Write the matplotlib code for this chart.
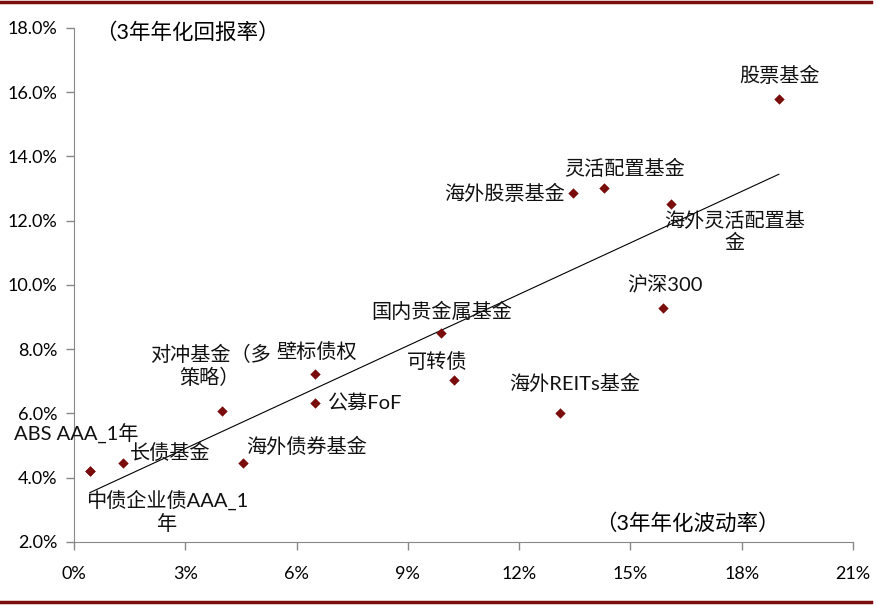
import numpy as np
import matplotlib
matplotlib.use("Agg")
import matplotlib.pyplot as plt
from matplotlib.lines import Line2D

plt.rcParams['font.family'] = ['Lato', 'Noto Sans CJK SC', 'DejaVu Sans']

# 3年年化波动率 (%), 3年年化回报率 (%)
names = ['股票基金', '灵活配置基金', '海外股票基金', '海外灵活配置基\n金', '沪深300',
         '国内贵金属基金', '可转债', '海外REITs基金', '公募FoF', '壁标债权',
         '对冲基金（多\n策略）', '海外债券基金', '长债基金', 'ABS AAA_1年',
         '中债企业债AAA_1\n年']
vol = [19.00, 14.29, 13.45, 16.09, 15.88,
       9.89, 10.24, 13.10, 6.50, 6.50,
       3.99, 4.56, 1.32, 0.43,
       0.43]
ret = [15.79, 13.02, 12.86, 12.52, 9.28,
       8.51, 7.04, 6.02, 6.33, 7.23,
       6.08, 4.46, 4.46, 4.21,
       4.21]
# label offsets in pixels, and alignment
offs = [(1, 24), (20, 20), (-8, 0), (64, -28), (2, 23),
        (1, 22), (-17, 19), (15, 29), (13, 0), (1, 22),
        (-12, 45), (63, 17), (7, 11), (-14, 37),
        (77, -40)]
aligns = ['center', 'center', 'right', 'center', 'center',
          'center', 'center', 'center', 'left', 'center',
          'center', 'center', 'left', 'center',
          'center']

xticks = [0, 3, 6, 9, 12, 15, 18, 21]
yticks = [2, 4, 6, 8, 10, 12, 14, 16, 18]

red = '#7a0c0c'
fig = plt.figure(figsize=(8.77, 6.06), dpi=100)
ax = fig.add_axes([74 / 877, 64 / 606, 779 / 877, 514 / 606])

ax.scatter(vol, ret, marker='D', s=28, color=red, zorder=3, linewidths=0)

# linear trend
k, b = np.polyfit(vol, ret, 1)
xs = np.array([min(vol), max(vol)])
ax.plot(xs, k * xs + b, color='black', lw=0.8, zorder=2)

for nm, x, y, o, a in zip(names, vol, ret, offs, aligns):
    ax.annotate(nm, (x, y), xytext=o, textcoords='offset pixels',
                ha=a, va='center', multialignment='center', fontsize=14.5,
                linespacing=1.25, color='#111111')

ax.set_xlim(0, 21)
ax.set_ylim(2, 18)
ax.set_xticks(xticks)
ax.set_yticks(yticks)
ax.set_xticklabels([f'{t}%' for t in xticks], fontsize=13)
ax.set_yticklabels([f'{t:.1f}%' for t in yticks], fontsize=13)
ax.tick_params(axis='both', direction='out', length=6, color='#888888', width=1)
ax.tick_params(axis='x', pad=11)
ax.tick_params(axis='y', pad=6)
for s in ['top', 'right']:
    ax.spines[s].set_visible(False)
for s in ['left', 'bottom']:
    ax.spines[s].set_color('#888888')

ax.text(0.027, 0.99, '（3年年化回报率）', transform=ax.transAxes, fontsize=15.5,
        ha='left', va='center')
ax.text(0.787, 0.037, '（3年年化波动率）', transform=ax.transAxes, fontsize=15.5,
        ha='center', va='center')

# dark red rules at top and bottom
fig.add_artist(Line2D([0, 0.993], [0.996, 0.996], color=red, lw=2.5))
fig.add_artist(Line2D([0, 0.993], [0.006, 0.006], color=red, lw=2.5))

fig.savefig('out.png', dpi=100)
